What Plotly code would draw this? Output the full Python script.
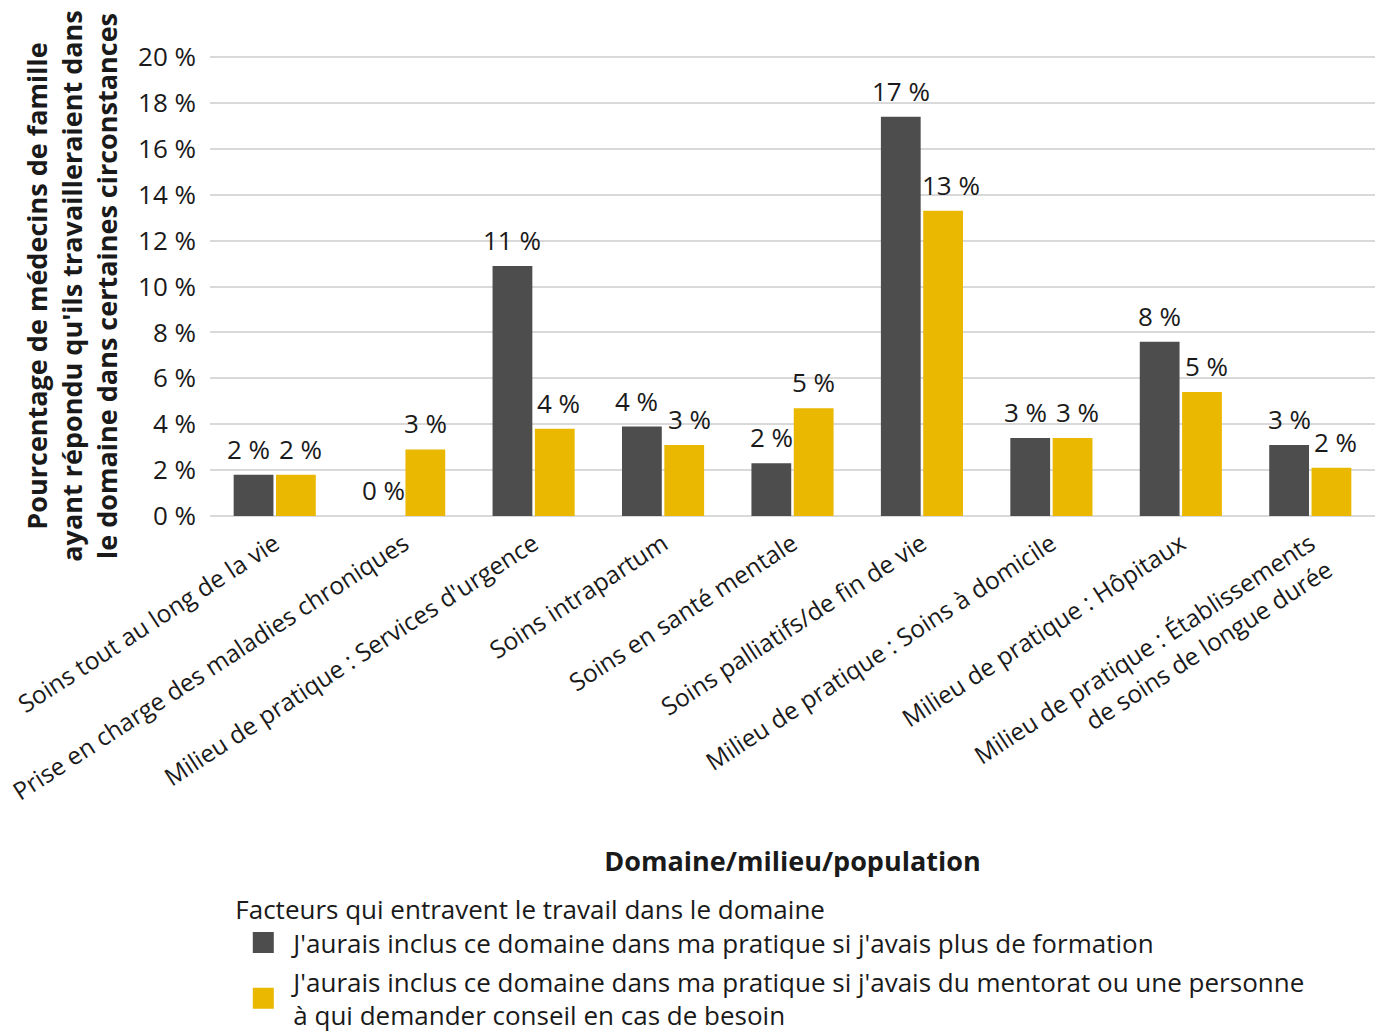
import plotly.graph_objects as go

categories = [
    "Soins tout au long de la vie",
    "Prise en charge des maladies chroniques",
    "Milieu de pratique : Services d'urgence",
    "Soins intrapartum",
    "Soins en santé mentale",
    "Soins palliatifs/de fin de vie",
    "Milieu de pratique : Soins à domicile",
    "Milieu de pratique : Hôpitaux",
    "Milieu de pratique : Établissements<br>de soins de longue durée",
]
formation = [1.8, 0.0, 10.9, 3.9, 2.3, 17.4, 3.4, 7.6, 3.1]
mentorat = [1.8, 2.9, 3.8, 3.1, 4.7, 13.3, 3.4, 5.4, 2.1]
series_names = [
    "J'aurais inclus ce domaine dans ma pratique si j'avais plus de formation",
    "J'aurais inclus ce domaine dans ma pratique si j'avais du mentorat ou une personne<br>à qui demander conseil en cas de besoin",
]
y_ticks = [0, 2, 4, 6, 8, 10, 12, 14, 16, 18, 20]
y_tick_labels = [f"{v} %" for v in y_ticks]

DARK = "#4d4d4d"
GOLD = "#eab800"
FONT = "Open Sans"
FS = 26
BARGAP = 0.346

fig = go.Figure()
series = [(formation, DARK, series_names[0]), (mentorat, GOLD, series_names[1])]
for k, (vals, col, name) in enumerate(series):
    fig.add_trace(go.Bar(
        x=categories, y=vals, marker=dict(color=col, line=dict(width=0)),
        showlegend=False, name=name, hoverinfo="y",
    ))
    fig.add_trace(go.Scatter(
        x=[None], y=[None], mode="markers", name=name, legendgroup=f"g{k}",
        marker=dict(symbol="square", size=16, color=col, line=dict(color=col, width=5)),
    ))

# value labels above bars, derived from the data
annotations = []
half = (1 - BARGAP) / 4
for k, (vals, col, name) in enumerate(series):
    off = -half if k == 0 else half
    sign = -1 if k == 0 else 1
    for i, v in enumerate(vals):
        label = f"{v:.0f} %"
        shift = 0
        if abs(formation[i] - mentorat[i]) < 0.95:
            shift = sign * 5
        elif k == 1 and formation[i] > mentorat[i] + 0.9:
            shift = 4 * len(f"{v:.0f}")
        annotations.append(dict(
            x=i + off, y=v, xref="x", yref="y", text=label,
            showarrow=False, yanchor="bottom", yshift=6, xshift=shift,
            font=dict(size=FS, family=FONT, color="#1a1a1a"),
        ))

fig.update_layout(
    width=1379, height=1034,
    margin=dict(l=210, r=4, t=56, b=518, autoexpand=False),
    paper_bgcolor="white", plot_bgcolor="white",
    font=dict(family=FONT, size=FS, color="#1a1a1a"),
    barmode="group", bargap=BARGAP, bargroupgap=0.06,
    showlegend=True,
    annotations=annotations,
    legend=dict(
        x=0.02, y=-0.803, xanchor="left", yanchor="top",
        orientation="v", font=dict(size=FS, family=FONT),
        title=dict(text="Facteurs qui entravent le travail dans le domaine", font=dict(size=FS), side="top"),
        itemsizing="trace", tracegroupgap=2, itemwidth=50,
    ),
)
fig.update_yaxes(
    range=[0, 20.05], tickvals=y_ticks, ticktext=y_tick_labels,
    showgrid=True, gridcolor="#d9d9d9", gridwidth=2,
    zeroline=True, zerolinecolor="#d9d9d9", zerolinewidth=2,
    showline=False, ticks="", ticklabelstandoff=13, automargin=False,
    tickfont=dict(size=FS),
    title=dict(
        text="<b>Pourcentage de médecins de famille<br>ayant répondu qu'ils travailleraient dans<br>le domaine dans certaines circonstances</b>",
        font=dict(size=27), standoff=12,
    ),
)
fig.update_xaxes(
    tickangle=-33, tickfont=dict(size=24.5), showline=False, ticks="",
    ticklabelstandoff=8, automargin=False,
    title=dict(text="<b>Domaine/milieu/population</b>", font=dict(size=27), standoff=46),
)

fig.write_html("out.html")
